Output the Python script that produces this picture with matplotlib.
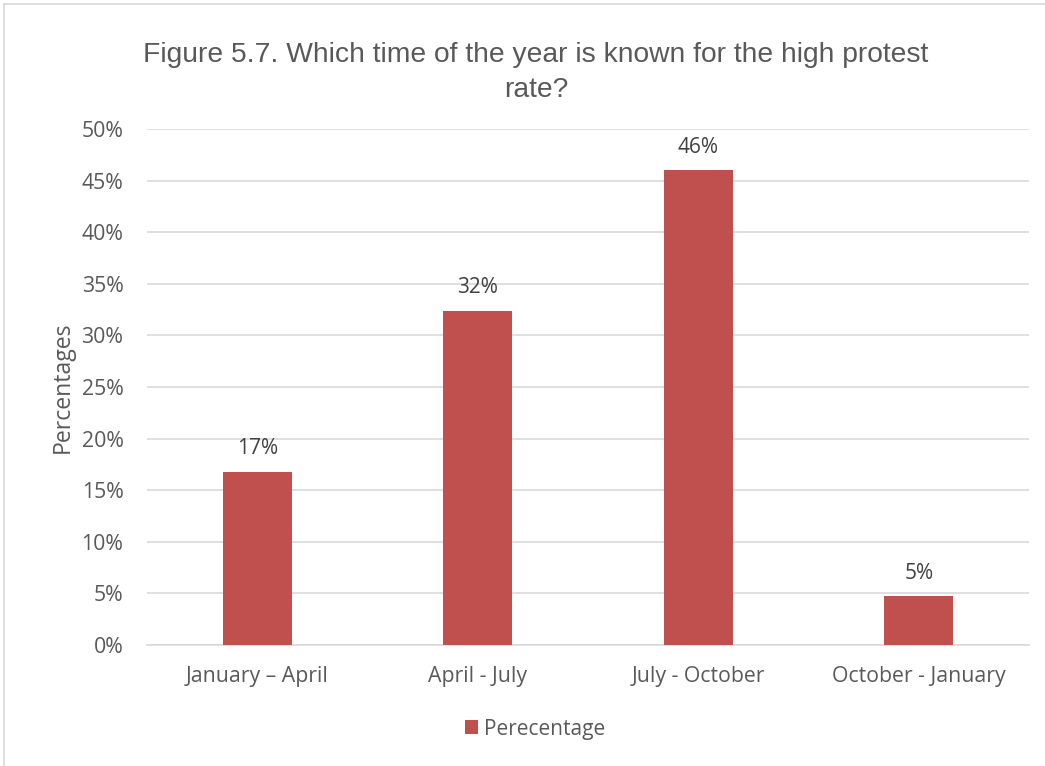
import matplotlib.pyplot as plt
from matplotlib.lines import Line2D

# data
periods = ["January \u2013 April", "April - July", "July - October", "October - January"]
shares = [16.8, 32.4, 46.0, 4.7]   # percent
labels = ["17%", "32%", "46%", "5%"]
y_ticks = [0, 5, 10, 15, 20, 25, 30, 35, 40, 45, 50]

bar_color = "#C0504D"
text_gray = "#595959"
grid_gray = "#D9D9D9"
font = "Open Sans"

fig = plt.figure(figsize=(10.45, 7.66), dpi=100)
ax = fig.add_axes([0.1407, 0.158, 0.844, 0.6736])

bars = ax.bar(range(len(periods)), shares, width=0.313, color=bar_color,
              label="Perecentage", zorder=3)

# value labels above bars
for b, lab in zip(bars, labels):
    ax.annotate(lab, (b.get_x() + b.get_width() / 2, b.get_height()),
                xytext=(0, 9), textcoords="offset points", ha="center", va="bottom",
                fontsize=15, color="#404040", family=font)

ax.set_xlim(-0.5, 3.5)
ax.set_ylim(0, 50)
ax.set_yticks(y_ticks)
ax.set_yticklabels([f"{t}%" for t in y_ticks])
ax.set_xticks(range(len(periods)))
ax.set_xticklabels(periods)
ax.yaxis.grid(True, color=grid_gray, linewidth=1.2, zorder=0)
ax.set_axisbelow(True)
for s in ["top", "right", "left"]:
    ax.spines[s].set_visible(False)
ax.spines["bottom"].set_color(grid_gray)
ax.spines["bottom"].set_linewidth(1.2)
ax.tick_params(length=0, labelsize=15.3, labelcolor=text_gray)
for t in ax.get_xticklabels() + ax.get_yticklabels():
    t.set_family(font)
ax.tick_params(axis="y", pad=17)
ax.tick_params(axis="x", pad=15)

ax.set_ylabel("Percentages", fontsize=16.6, color=text_gray, family=font, labelpad=5)

fig.text(0.513, 0.906, "Figure 5.7. Which time of the year is known for the high protest\nrate?",
         ha="center", va="center", fontsize=20.3, color=text_gray,
         family="Liberation Sans", linespacing=1.45)

fig.legend(loc="center", bbox_to_anchor=(0.512, 0.048), frameon=False,
           prop={"family": font, "size": 15}, labelcolor=text_gray,
           handlelength=0.65, handleheight=0.65, handletextpad=0.3)

# light border of the chart area
fig.add_artist(Line2D([0.004, 1.0], [0.995, 0.995], color="#D9D9D9", lw=1.2, transform=fig.transFigure))
fig.add_artist(Line2D([0.004, 0.004], [0.0, 0.995], color="#D9D9D9", lw=1.2, transform=fig.transFigure))

fig.savefig("out.png", dpi=100)
